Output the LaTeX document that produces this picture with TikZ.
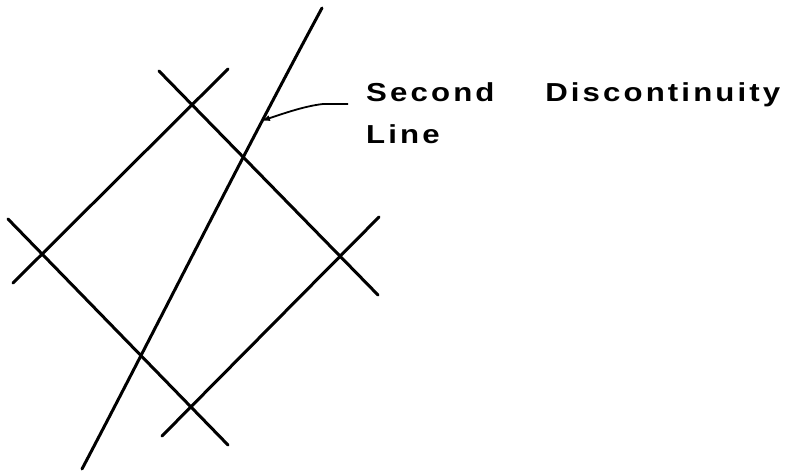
\documentclass[tikz,border=0pt]{standalone}
\usepackage{fontspec}
\setmainfont{Liberation Sans}
\newfontfamily\lblfont{Liberation Sans}[LetterSpace=10]
\usetikzlibrary{arrows.meta}
\tikzset{
  ln/.style={line width=3pt, line cap=round},
  lbl/.style={font=\lblfont\bfseries\fontsize{26}{31}\selectfont, inner sep=0pt, anchor=base west, xscale=1.2},
}
\begin{document}
\begin{tikzpicture}[x=1pt,y=-1pt]
\useasboundingbox (0,0) rectangle (791,474);
% four lines of the rotated square
\draw[ln] (13,283) -- (228,69);
\draw[ln] (159,71) -- (378,295);
\draw[ln] (8,219) -- (228,445);
\draw[ln] (162,436) -- (379,217);
% second discontinuity line
\draw[ln] (82,469) .. controls (150,340) and (240,160) .. (322,8);
% labels
\node[lbl] (second) at (366,101) {Second};
\node[lbl] (disc) at (545,101) {Discontinuity};
\node[lbl] (line) at (366,143) {Line};
% leader arrow
\coordinate (a0) at (348,104);
\coordinate (a1) at (261,121);
\draw[line width=1.8pt, -{Latex[length=9pt,width=6pt]}] (a0) -- (323,104) .. controls (305,106) and (285,113) .. (a1);
\end{tikzpicture}
\end{document}
